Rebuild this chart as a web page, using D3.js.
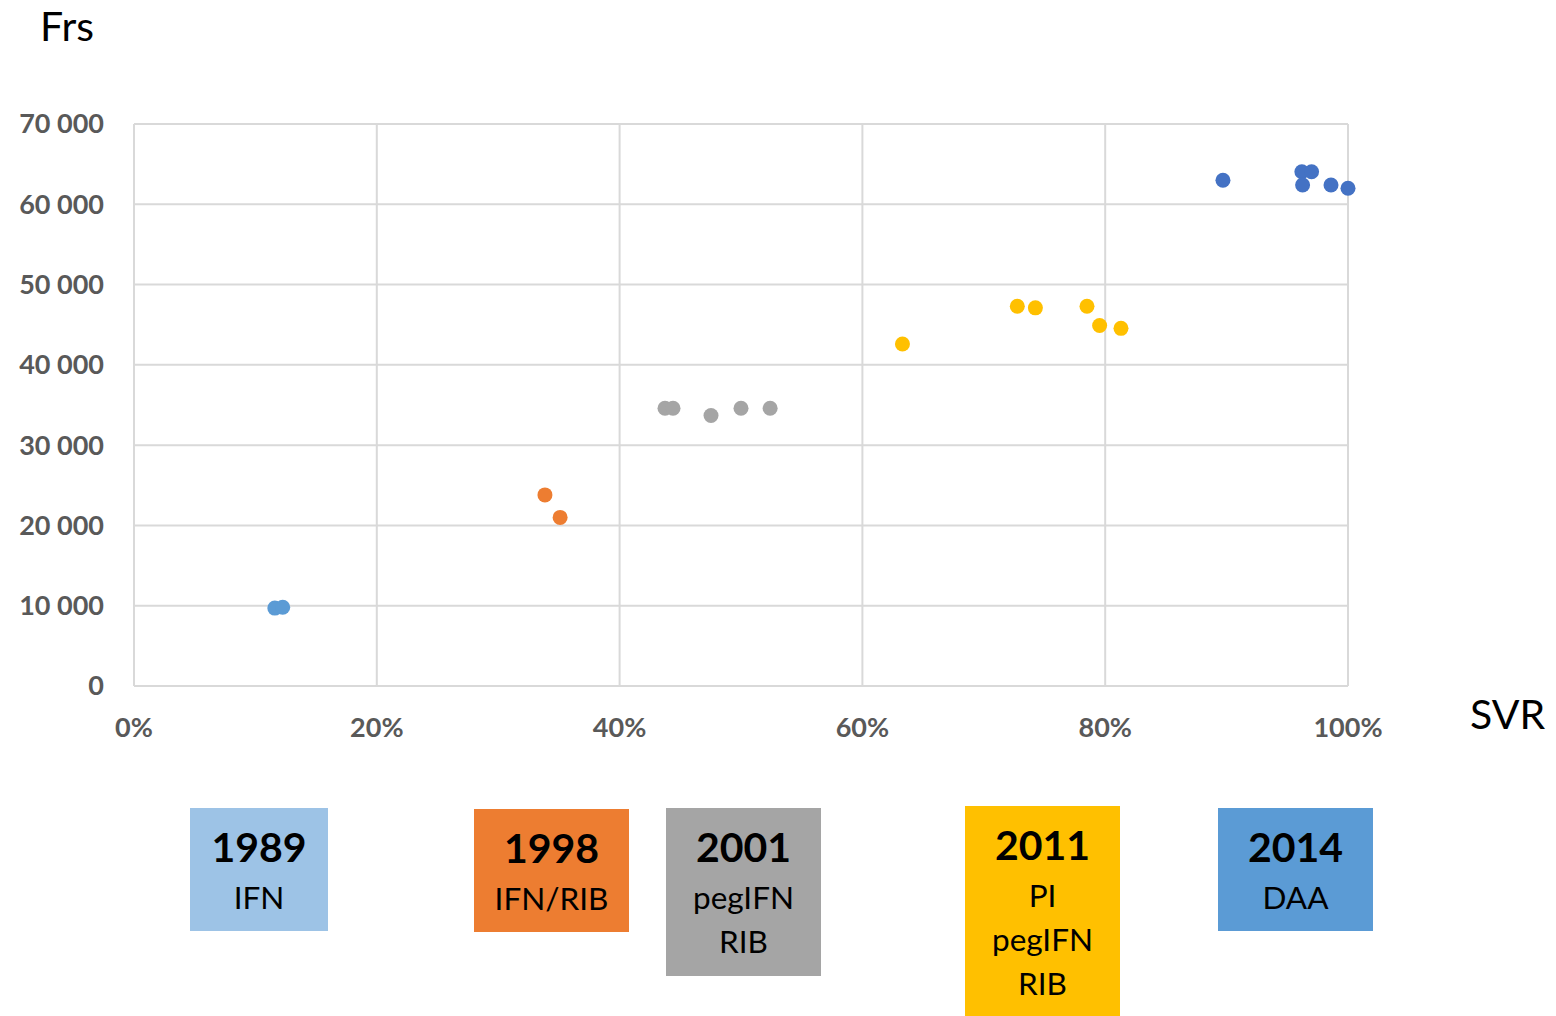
<!DOCTYPE html>
<html lang="en">
<head>
  <meta charset="UTF-8">
  <title>SVR vs price</title>
  <style>
    body { margin: 0; background: #fff; font-family: Lato, "Open Sans", sans-serif; }
    .grid line { stroke: #d9d9d9; stroke-width: 2px; }
    .tick-label { font-weight: bold; font-size: 27px; fill: #595959; }
    .axis-title { font-size: 41px; fill: #000; }
  </style>
</head>
<body>
  <svg width="1556" height="1016"></svg>
  <script src="https://d3js.org/d3.v7.min.js"></script>
  <script>
    // SVR (share) and price (Frs) per treatment era
    const svr1989 = [0.116, 0.1225];
    const frs1989 = [9700, 9800];
    const svr1998 = [0.3385, 0.351];
    const frs1998 = [23800, 21000];
    const svr2001 = [0.4374, 0.444, 0.4753, 0.50, 0.524];
    const frs2001 = [34600, 34600, 33700, 34600, 34600];
    const svr2011 = [0.633, 0.7276, 0.7425, 0.785, 0.7954, 0.813];
    const frs2011 = [42600, 47300, 47100, 47300, 44900, 44550];
    const svr2014 = [0.897, 0.962, 0.970, 0.9626, 0.986, 1.0];
    const frs2014 = [63000, 64050, 64050, 62400, 62400, 62000];

    const yTicks = [0, 10000, 20000, 30000, 40000, 50000, 60000, 70000];
    const xTicks = [0, 0.2, 0.4, 0.6, 0.8, 1.0];

    const eras = [
      { year: "1989", lines: ["IFN"], svr: svr1989, frs: frs1989, dot: "#5b9bd5", box: "#9dc3e6" },
      { year: "1998", lines: ["IFN/RIB"], svr: svr1998, frs: frs1998, dot: "#ed7d31", box: "#ed7d31" },
      { year: "2001", lines: ["pegIFN", "RIB"], svr: svr2001, frs: frs2001, dot: "#a5a5a5", box: "#a5a5a5" },
      { year: "2011", lines: ["PI", "pegIFN", "RIB"], svr: svr2011, frs: frs2011, dot: "#ffc000", box: "#ffc000" },
      { year: "2014", lines: ["DAA"], svr: svr2014, frs: frs2014, dot: "#4472c4", box: "#5b9bd5" }
    ];
    // label boxes under the chart: [left, top, width, height]
    const boxes = [
      [190, 808, 138, 123],
      [474, 809, 155, 123],
      [666, 808, 155, 168],
      [965, 806, 155, 210],
      [1218, 808, 155, 123]
    ];

    const svg = d3.select("svg");
    const x = d3.scaleLinear().domain([0, 1]).range([134, 1348]);
    const y = d3.scaleLinear().domain([0, 70000]).range([686, 124]);
    const fmt = d => d3.format(",")(d).replace(/,/g, " ");

    const grid = svg.append("g").attr("class", "grid");
    grid.selectAll("line.h").data(yTicks).join("line").attr("class", "h")
      .attr("x1", x(0)).attr("x2", x(1))
      .attr("y1", d => y(d)).attr("y2", d => y(d));
    grid.selectAll("line.v").data(xTicks).join("line").attr("class", "v")
      .attr("x1", d => x(d)).attr("x2", d => x(d))
      .attr("y1", y(0)).attr("y2", y(70000));

    svg.selectAll("text.ytick").data(yTicks).join("text")
      .attr("class", "tick-label ytick")
      .attr("x", 104).attr("y", d => y(d)).attr("dy", "0.35em")
      .attr("text-anchor", "end").text(fmt);
    svg.selectAll("text.xtick").data(xTicks).join("text")
      .attr("class", "tick-label xtick")
      .attr("x", d => x(d)).attr("y", 737)
      .attr("text-anchor", "middle").text(d3.format(".0%"));

    svg.append("text").attr("class", "axis-title").attr("x", 40).attr("y", 41).text("Frs");
    svg.append("text").attr("class", "axis-title").attr("x", 1470).attr("y", 729).text("SVR");

    eras.forEach(e => {
      svg.append("g").selectAll("circle")
        .data(e.svr.map((s, i) => [s, e.frs[i]]))
        .join("circle")
        .attr("cx", d => x(d[0])).attr("cy", d => y(d[1]))
        .attr("r", 7.5).attr("fill", e.dot);
    });

    eras.forEach((e, i) => {
      const [bx, by, bw, bh] = boxes[i];
      const g = svg.append("g").attr("transform", `translate(${bx + bw / 2},${by})`);
      g.append("rect").attr("x", -bw / 2).attr("width", bw).attr("height", bh).attr("fill", e.box);
      g.append("text").attr("y", 54).attr("text-anchor", "middle")
        .style("font-weight", "bold").style("font-size", "41px").text(e.year);
      e.lines.forEach((t, j) => {
        g.append("text").attr("y", 101 + j * 44).attr("text-anchor", "middle")
          .style("font-size", "31.5px").text(t);
      });
    });
  </script>
</body>
</html>
